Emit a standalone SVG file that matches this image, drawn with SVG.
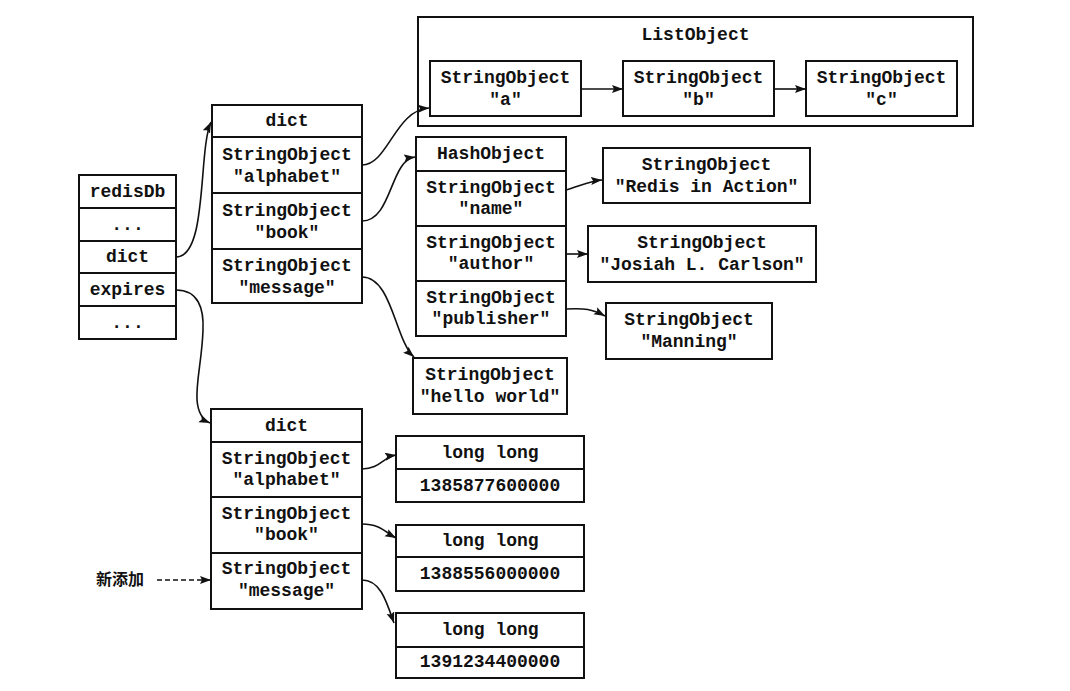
<svg xmlns="http://www.w3.org/2000/svg" width="1070" height="691" viewBox="0 0 1070 691">
<style>
.b{fill:#fff;stroke:#111;stroke-width:2}
.l{fill:none;stroke:#111;stroke-width:2}
text{font-family:"Liberation Mono","DejaVu Sans Mono",monospace;font-size:18px;font-weight:bold;fill:#111;text-anchor:middle;dominant-baseline:central}
.c{stroke:#111;stroke-width:1.6;fill:none;marker-end:url(#ah)}
.cn{font-family:"Noto Sans CJK SC",sans-serif;font-size:16px;font-weight:bold;text-anchor:start}
</style>
<defs>
<marker id="ah" markerUnits="userSpaceOnUse" markerWidth="12" markerHeight="10" refX="11" refY="4" orient="auto">
<path d="M0,0 L11,4 L0,8 L2,4 z" fill="#111"/>
</marker>
</defs>
<rect width="1070" height="691" fill="#fff"/>

<g id="redisDb">
<rect class="b" x="79" y="175" width="97" height="164"/>
<path class="l" d="M79,208H176M79,241H176M79,273H176M79,306H176"/>
<text x="127.5" y="191.5">redisDb</text>
<text x="127.5" y="224.5">...</text>
<text x="127.5" y="257">dict</text>
<text x="127.5" y="289.5">expires</text>
<text x="127.5" y="322.5">...</text>
</g>

<g id="dict-top">
<rect class="b" x="212" y="105" width="150" height="198"/>
<path class="l" d="M212,137H362M212,193H362M212,249H362"/>
<text x="287" y="121">dict</text>
<text x="287" y="155">StringObject</text>
<text x="287" y="177">"alphabet"</text>
<text x="287" y="211">StringObject</text>
<text x="287" y="233">"book"</text>
<text x="287" y="266">StringObject</text>
<text x="287" y="288">"message"</text>
</g>

<g id="list-object">
<rect class="b" x="418" y="17" width="555" height="109"/>
<text x="695.5" y="35">ListObject</text>
</g>
<g id="str-a">
<rect class="b" x="430" y="61" width="151" height="55"/>
<text x="505.5" y="78">StringObject</text>
<text x="505.5" y="100">"a"</text>
</g>
<g id="str-b">
<rect class="b" x="623" y="61" width="151" height="55"/>
<text x="698.5" y="78">StringObject</text>
<text x="698.5" y="100">"b"</text>
</g>
<g id="str-c">
<rect class="b" x="806" y="61" width="151" height="55"/>
<text x="881.5" y="78">StringObject</text>
<text x="881.5" y="100">"c"</text>
</g>

<g id="hash-object">
<rect class="b" x="416" y="137" width="150" height="199"/>
<path class="l" d="M416,171H566M416,226H566M416,281H566"/>
<text x="491" y="154">HashObject</text>
<text x="491" y="188">StringObject</text>
<text x="491" y="209">"name"</text>
<text x="491" y="243">StringObject</text>
<text x="491" y="264">"author"</text>
<text x="491" y="298">StringObject</text>
<text x="491" y="319">"publisher"</text>
</g>

<g id="str-redis">
<rect class="b" x="603" y="148" width="207" height="55"/>
<text x="706.5" y="165">StringObject</text>
<text x="706.5" y="187">"Redis in Action"</text>
</g>
<g id="str-josiah">
<rect class="b" x="588" y="226" width="228" height="56"/>
<text x="702" y="243">StringObject</text>
<text x="702" y="265">"Josiah L. Carlson"</text>
</g>
<g id="str-manning">
<rect class="b" x="606" y="303" width="166" height="56"/>
<text x="689" y="320">StringObject</text>
<text x="689" y="342">"Manning"</text>
</g>
<g id="str-hello">
<rect class="b" x="413" y="358" width="154" height="56"/>
<text x="490" y="375">StringObject</text>
<text x="490" y="397">"hello world"</text>
</g>

<g id="dict-expires">
<rect class="b" x="211" y="409" width="151" height="200"/>
<path class="l" d="M211,442H362M211,497H362M211,553H362"/>
<text x="286.5" y="425.5">dict</text>
<text x="286.5" y="459">StringObject</text>
<text x="286.5" y="480">"alphabet"</text>
<text x="286.5" y="514">StringObject</text>
<text x="286.5" y="535">"book"</text>
<text x="286.5" y="569">StringObject</text>
<text x="286.5" y="591">"message"</text>
</g>

<g id="ll-1">
<rect class="b" x="396" y="436" width="188" height="66"/>
<path class="l" d="M396,469H584"/>
<text x="490" y="452.5">long long</text>
<text x="490" y="485.5">1385877600000</text>
</g>
<g id="ll-2">
<rect class="b" x="396" y="525" width="188" height="66"/>
<path class="l" d="M396,557H584"/>
<text x="490" y="541">long long</text>
<text x="490" y="574">1388556000000</text>
</g>
<g id="ll-3">
<rect class="b" x="396" y="613" width="188" height="65"/>
<path class="l" d="M396,647H584"/>
<text x="490" y="630">long long</text>
<text x="490" y="662">1391234400000</text>
</g>

<g id="label-new">
<text class="cn" x="96" y="578">新添加</text>
</g>

<g id="connectors">
<path class="c" d="M176,257 C208,257 198,150 211,122"/>
<path class="c" d="M176,290 C198,290 204,308 203,330 C202,360 196,380 197,400 C198,413 203,420 210,423"/>
<path class="c" d="M362,165 C388,165 395,110 429,108"/>
<path class="c" d="M362,221 C392,221 390,160 415,157"/>
<path class="c" d="M362,277 C392,277 395,340 414,357"/>
<path class="c" d="M581,89 L623,89"/>
<path class="c" d="M774,89 L806,89"/>
<path class="c" d="M566,190 C580,186 590,181 602,180"/>
<path class="c" d="M566,254 L588,254"/>
<path class="c" d="M566,309 C585,308 592,309 605,316"/>
<path class="c" d="M362,469 C380,469 383,457 396,455"/>
<path class="c" d="M362,524 C380,524 385,532 396,538"/>
<path class="c" d="M362,580 C380,580 386,600 394,623"/>
<path class="c" stroke-dasharray="5,3" d="M157,580 L211,580"/>
</g>
</svg>
